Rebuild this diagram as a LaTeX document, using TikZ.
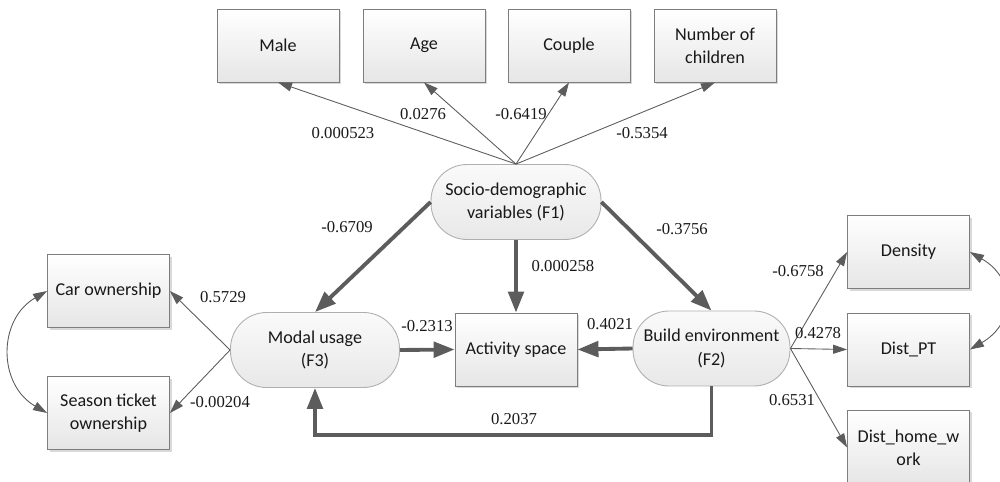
\documentclass[tikz,border=0pt]{standalone}
\usepackage{fontspec}
\setmainfont{Liberation Serif}
\newfontfamily\boxfont{Carlito}
\usetikzlibrary{arrows.meta, shadows}

\definecolor{linegray}{RGB}{92,92,92}
\definecolor{boxline}{RGB}{125,125,125}
\definecolor{ovalline}{RGB}{175,175,175}

\begin{document}
\begin{tikzpicture}[
		x=0.02cm, y=-0.02cm,
		% Observed variables (boxes)
		obsbox/.style={draw=boxline, line width=0.5pt, top color=white, bottom color=black!10,
			drop shadow={shadow xshift=1.3pt, shadow yshift=-1.3pt, fill=black, opacity=0.15},
			minimum width=2.44cm, minimum height=1.46cm, inner sep=1pt, align=center,
			font=\boxfont\fontsize{10.3}{13.2}\selectfont, text=black!90},
		% Latent factors (rounded)
		latent/.style={draw=ovalline, line width=0.5pt, rounded corners=0.72cm,
			top color=black!2, bottom color=black!9,
			minimum height=1.5cm, inner sep=1pt, align=center,
			font=\boxfont\fontsize{10.3}{13.2}\selectfont, text=black!90},
		% Coefficients
		coef/.style={font=\fontsize{9.5}{11}\selectfont, text=black!90, inner sep=1pt},
		% Thin arrow
		arrow/.style={-{Triangle[length=2.8mm, width=1.8mm]}, linegray, line width=0.5pt},
		% Thick arrow
		bigarrow/.style={-{Triangle[length=4.2mm, width=3.1mm]}, linegray, line width=2.2pt},
		% Covariance arrow
		covar/.style={{Triangle[length=2.8mm, width=1.8mm]}-{Triangle[length=2.8mm, width=1.8mm]},
			linegray, line width=0.5pt}
		]
		
		\useasboundingbox (0,0) rectangle (1000,482);
		
		% === NODES ===
		
		% Top row: socio-demographic indicators
		\node[obsbox] (male) at (278,45.5) {Male};
		\node[obsbox] (age) at (424,45.5) {Age};
		\node[obsbox] (couple) at (569,45.5) {Couple};
		\node[obsbox] (children) at (715,45.5) {Number of\\children};
		
		% Factors
		\node[latent, minimum width=3.4cm] (socio) at (516,202) {Socio-demographic\\variables (F1)};
		\node[latent, minimum width=3.38cm] (modal) at (315,350) {Modal usage\\(F3)};
		\node[latent, minimum width=3.14cm] (build) at (711.5,348.5) {Build environment\\(F2)};
		
		% Outcome
		\node[obsbox] (activity) at (516,349.5) {Activity space};
		
		% Left indicators
		\node[obsbox] (car) at (108.5,291) {Car ownership};
		\node[obsbox] (season) at (108.5,413) {Season ticket\\ownership};
		
		% Right indicators
		\node[obsbox] (density) at (908.5,252) {Density};
		\node[obsbox] (distpt) at (908.5,349.5) {Dist\_PT};
		\node[obsbox, minimum height=1.5cm] (disthome) at (908.5,447.5) {Dist\_home\_w\\ork};
		
		% === STRUCTURAL PATHS ===
		
		\draw[bigarrow] (socio.west) -- (modal.north);
		\draw[bigarrow] (socio.south) -- (activity.north);
		\draw[bigarrow] (socio.east) -- (build.north);
		\draw[bigarrow] (modal.east) -- (activity.west);
		\draw[bigarrow] (build.west) -- (activity.east);
		\draw[bigarrow] (build.south) -- ++(0,49) -| (modal.south);
		
		% === MEASUREMENT PATHS ===
		
		\draw[arrow] (socio.north) -- (male.south);
		\draw[arrow] (socio.north) -- (age.south);
		\draw[arrow] (socio.north) -- (couple.south);
		\draw[arrow] (socio.north) -- (children.south);
		
		\draw[arrow] (modal.west) -- (car.east);
		\draw[arrow] (modal.west) -- (season.east);
		
		\draw[arrow] (build.east) -- (density.west);
		\draw[arrow] (build.east) -- (distpt.west);
		\draw[arrow] (build.east) -- (disthome.west);
		
		% Covariances
		\draw[covar] (car.west) to[bend right=60, looseness=1.2] (season.west);
		\draw[covar] (density.east) to[bend left=60, looseness=1.4] (distpt.east);
		
		% === COEFFICIENTS ===
		
		\node[coef] (wmale) at (343,133) {0.000523};
		\node[coef] (wage) at (423,114) {0.0276};
		\node[coef] (wcouple) at (521,114) {-0.6419};
		\node[coef] (wchildren) at (642,133) {-0.5354};
		
		\node[coef] (wsm) at (347,227) {-0.6709};
		\node[coef] (wsa) at (563,266) {0.000258};
		\node[coef] (wsb) at (682,229) {-0.3756};
		
		\node[coef] (wma) at (427,326) {-0.2313};
		\node[coef] (wba) at (610,324) {0.4021};
		\node[coef] (wbm) at (514,419) {0.2037};
		
		\node[coef] (wcar) at (223,297) {0.5729};
		\node[coef] (wseason) at (220,402) {-0.00204};
		
		\node[coef] (wdensity) at (798,271) {-0.6758};
		\node[coef] (wdistpt) at (818,333) {0.4278};
		\node[coef] (wdisthome) at (792,400) {0.6531};
		
	\end{tikzpicture}
\end{document}
